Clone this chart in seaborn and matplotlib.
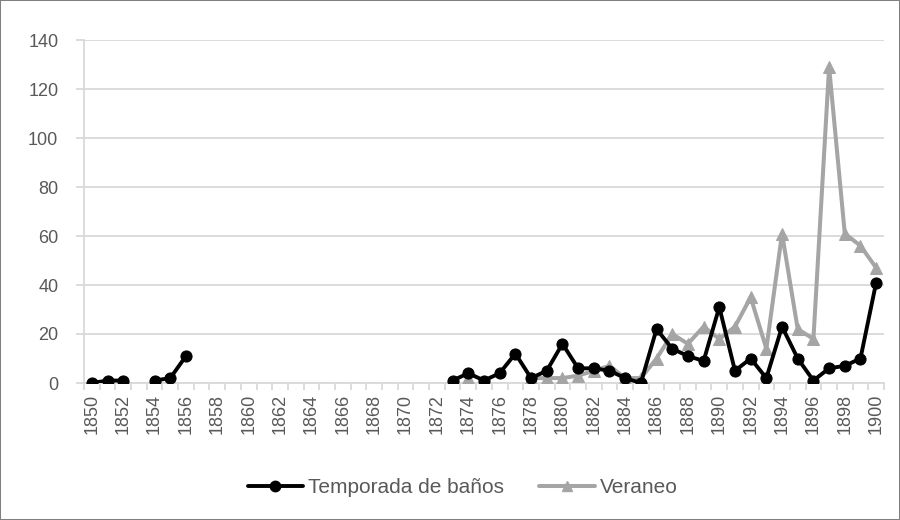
import numpy as np
import pandas as pd
import seaborn as sns
import matplotlib
matplotlib.use("Agg")
import matplotlib.pyplot as plt
from matplotlib.lines import Line2D
from matplotlib.ticker import FixedLocator

years = list(range(1850, 1901))
nan = np.nan
temporada = [0, 1, 1, nan, 1, 2, 11,
             nan, nan, nan, nan, nan, nan, nan, nan, nan, nan, nan, nan, nan, nan, nan, nan,
             1, 4, 1, 4, 12, 2, 5, 16, 6, 6, 5, 2, 0,
             22, 14, 11, 9, 31, 5, 10, 2, 23, 10, 1, 6, 7, 10, 41]
veraneo = [nan, nan, nan, nan, nan, nan, nan,
           nan, nan, nan, nan, nan, nan, nan, nan, nan, nan, nan, nan, nan, nan, nan, nan,
           nan, 2, nan, nan, nan, 2, 2, 2, 3, 5, 7, 2, 2,
           10, 20, 16, 23, 18, 23, 35, 14, 61, 22, 18, 129, 61, 56, 47]
series_names = ["Temporada de baños", "Veraneo"]
y_ticks = [0, 20, 40, 60, 80, 100, 120, 140]


def segmented(vals):
    df = pd.DataFrame({"year": years, "value": vals})
    df["seg"] = df["value"].isna().cumsum()
    return df.dropna()


sns.set_theme(style="white")
plt.rcParams["font.family"] = ["Liberation Sans", "DejaVu Sans"]

GRID = "#D9D9D9"
TXT = "#595959"

fig = plt.figure(figsize=(9, 5.2), dpi=100)
fig.patch.set_edgecolor("#7f7f7f")
fig.patch.set_linewidth(1.2)
ax = fig.add_axes([84 / 900, 1 - 383 / 520, 800 / 900, 343 / 520])

dfv = segmented(veraneo)
sns.lineplot(data=dfv, x="year", y="value", units="seg", estimator=None,
             color="#A5A5A5", linewidth=2.9, marker="^", markersize=8.5,
             markeredgecolor="#A5A5A5", ax=ax, zorder=3, legend=False)
dft = segmented(temporada)
sns.lineplot(data=dft, x="year", y="value", units="seg", estimator=None,
             color="black", linewidth=2.8, marker="o", markersize=8,
             markeredgecolor="black", ax=ax, zorder=4, legend=False)

ax.set_xlim(1849.5, 1900.5)
ax.set_ylim(0, 140)
ax.set_yticks(y_ticks)
ax.yaxis.grid(True, color=GRID, linewidth=1.3)
ax.set_axisbelow(True)
ax.xaxis.set_major_locator(FixedLocator(years[::2]))
ax.xaxis.set_minor_locator(FixedLocator([y + 0.5 for y in range(1849, 1901)]))
ax.tick_params(axis="x", which="major", length=0, labelrotation=90, labelsize=13,
               labelcolor=TXT, pad=8)
ax.tick_params(axis="x", which="minor", length=5, color=GRID, width=1.3, direction="out",
               bottom=True)
ax.tick_params(axis="y", length=5.5, color=GRID, width=1.3, direction="out", left=True,
               labelsize=13, labelcolor=TXT, pad=13)
for s in ["top", "right"]:
    ax.spines[s].set_visible(False)
for s in ["bottom", "left"]:
    ax.spines[s].set_color(GRID)
    ax.spines[s].set_linewidth(1.3)
ax.set_xlabel("")
ax.set_ylabel("")

handles = [
    Line2D([], [], color="black", linewidth=2.8, marker="o", markersize=7.5),
    Line2D([], [], color="#A5A5A5", linewidth=2.9, marker="^", markersize=7.5),
]
leg = fig.legend(handles, series_names, loc="center", bbox_to_anchor=(0.514, 0.062),
                 ncol=2, frameon=False, fontsize=15, handlelength=2.65,
                 handletextpad=0.25, columnspacing=1.7)
for t in leg.get_texts():
    t.set_color(TXT)

fig.savefig("out.png", dpi=100)
